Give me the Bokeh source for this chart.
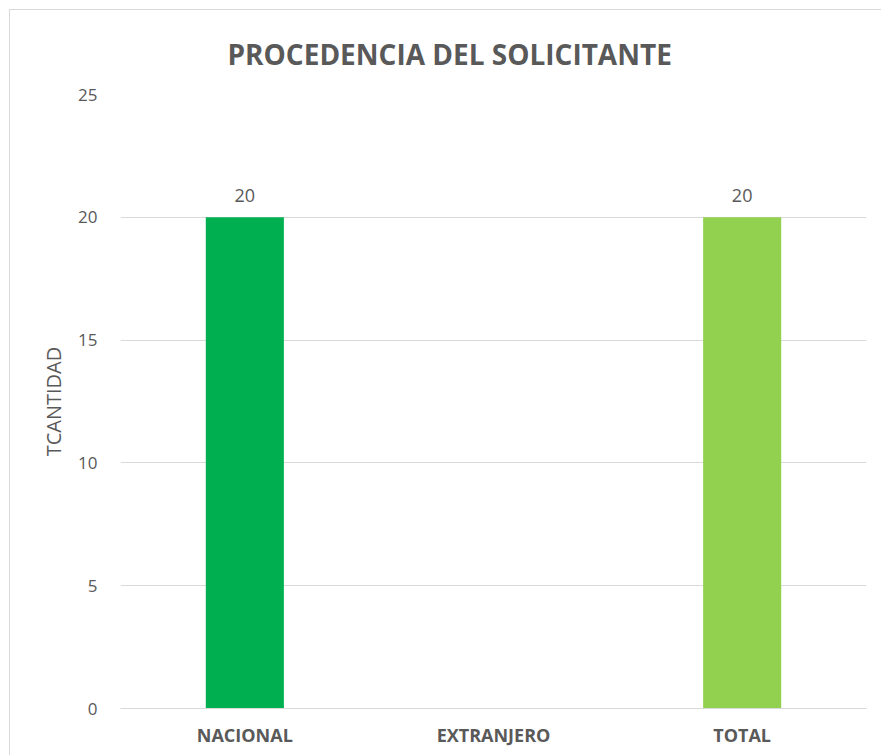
from bokeh.plotting import figure
from bokeh.models import ColumnDataSource, Range1d, LabelSet
from bokeh.core.properties import value
from bokeh.embed import file_html
from bokeh.resources import INLINE

title_text = "PROCEDENCIA DEL SOLICITANTE"
categories = ["NACIONAL", "EXTRANJERO", "TOTAL"]
values = [20, 0, 20]
colors = ["#00B050", "#00B050", "#92D050"]
labels = ["20", "", "20"]
y_ticks = [0, 5, 10, 15, 20, 25]

src = ColumnDataSource(dict(cat=categories, val=values, color=colors, lab=labels))

W, H = 872, 746
p = figure(x_range=categories, y_range=Range1d(0, 25), width=W, height=H,
           output_backend="svg", toolbar_location=None,
           min_border_left=110, min_border_right=16, min_border_top=84, min_border_bottom=48,
           styles={"margin-left": "9px", "margin-top": "9px",
                   "border-left": "1px solid #d9d9d9", "border-top": "1px solid #d9d9d9"})
p.outline_line_color = None
p.background_fill_color = "white"
p.border_fill_color = "white"

p.vbar(x="cat", top="val", width=0.314, color="color", source=src, line_color=None)

p.add_layout(LabelSet(x="cat", y="val", text="lab", source=src, y_offset=15,
                      text_align="center", text_baseline="bottom",
                      text_font=value("Open Sans"), text_font_size="18px", text_color="#595959"))

p.xgrid.grid_line_color = None
p.ygrid.grid_line_color = "#d9d9d9"
p.yaxis.ticker = y_ticks
p.yaxis.axis_line_color = None
p.yaxis.major_tick_line_color = None
p.yaxis.minor_tick_line_color = None
p.yaxis.major_label_text_font = "Open Sans"
p.yaxis.major_label_text_font_size = "17px"
p.yaxis.major_label_text_color = "#595959"
p.yaxis.major_label_standoff = 17
p.yaxis.axis_label = "TCANTIDAD"
p.yaxis.axis_label_text_font = "Open Sans"
p.yaxis.axis_label_text_font_size = "20px"
p.yaxis.axis_label_text_font_style = "normal"
p.yaxis.axis_label_text_color = "#595959"
p.yaxis.axis_label_standoff = 8

p.xaxis.axis_line_color = "#d9d9d9"
p.xaxis.major_tick_line_color = None
p.xaxis.minor_tick_line_color = None
p.xaxis.major_label_text_font = "Open Sans"
p.xaxis.major_label_text_font_size = "18px"
p.xaxis.major_label_text_font_style = "bold"
p.xaxis.major_label_text_color = "#595959"
p.xaxis.major_label_standoff = 8

p.title.text = title_text
p.title.align = "left"
p.title.offset = 107
p.title.standoff = 44
p.title.text_font = "Open Sans"
p.title.text_font_size = "28px"
p.title.text_font_style = "bold"
p.title.text_color = "#595959"

open("out.html", "w").write(file_html(p, INLINE))
